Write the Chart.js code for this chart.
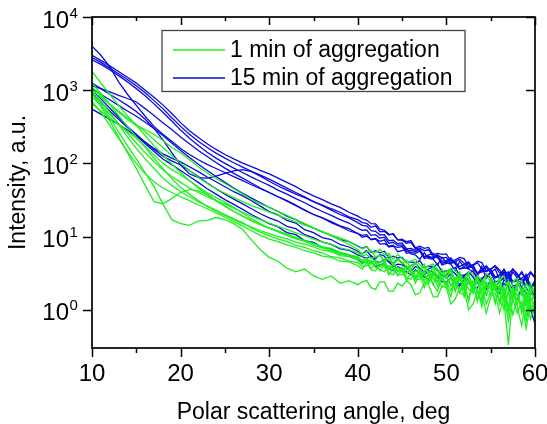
<!DOCTYPE html>
<html>
<head>
<meta charset="utf-8">
<script src="https://cdn.jsdelivr.net/npm/chart.js@4/dist/chart.umd.min.js"></script>
<style>
  html, body { margin: 0; padding: 0; background: #fff; }
  canvas { display: block; }
</style>
</head>
<body>
<canvas id="c" width="547" height="424"></canvas>
<script>
// Scattering angle, deg: 1 deg steps up to 39, then 0.5 deg steps (noisy tail)
const angles = [10,11,12,13,14,15,16,17,18,19,20,21,22,23,24,25,26,27,28,29,30,31,32,33,34,35,36,37,38,39,
    40,40.5,41,41.5,42,42.5,43,43.5,44,44.5,45,45.5,46,46.5,47,47.5,48,48.5,49,49.5,
    50,50.5,51,51.5,52,52.5,53,53.5,54,54.5,55,55.5,56,56.5,57,57.5,58,58.5,59,59.5,60];

// 1 min of aggregation
const green1 = [1800,1250,880,620,450,330,240,175,130,98, 75,58,46,38,31,26,22,19,16.5,14.5, 13,12,10.8,9.6,8.9,8,7.2,6.9,6.1,5.6,
    5.3,4.7,5.1,4.4,4.8,3.9,4.5,3.6,4.2,3.3, 3.8,3.1,3.6,2.6,3.4,2.5,3.1,2.2,3.0,2.7, 2.0,3.0,1.8,2.7,1.5,2.6,2.2,1.3,2.5,1.6, 2.4,1.2,2.2,1.7,0.9,2.1,1.2,1.9,0.8,1.8, 1.3];
const green2 = [1250,900,640,450,320,230,165,118,85,62, 47,38,31,26,22,19.5,17,15,13.5,12, 11,10,9.3,8.4,7.9,7.2,6.5,6.2,5.5,5.3,
    4.8,4.2,4.7,3.6,4.4,3.4,4.2,3.0,3.7,2.9, 3.5,2.5,3.3,2.3,3.1,2.0,3.0,2.2,1.8,2.8, 2.2,1.5,2.7,1.7,2.4,1.3,2.3,1.9,1.1,2.2, 1.6,2.4,1.2,2.0,0.9,1.9,1.1,0.6,1.6,1.0, 1.3];
const green3 = [1100,850,650,500,400,330,290,250,205,165, 140,112,90,74,62,53,45,38,32,28, 25,22,19.5,17,15,13.2,11.6,10.2,9.0,7.8,
    6.6,5.8,6.2,6.5,5.2,5.6,4.7,5.5,4.2,5.0, 4.2,4.8,3.5,4.4,3.3,4.2,3.0,3.9,2.8,3.6, 2.7,3.5,2.3,3.3,2.1,3.1,1.8,2.9,2.5,1.6, 2.6,1.8,2.8,1.4,2.4,1.3,2.2,2.5,1.1,2.0, 1.6];
const green4 = [1000,650,420,270,175,115,75,48,28,17, 15,14.2,16.3,16.6,18.2,17,15,12.5,9,6.6, 5.2,4.6,3.7,3.3,3.6,2.9,2.6,2.9,2.3,2.5,
    2.2,2.4,2.5,2.0,1.9,2.4,2.4,1.8,1.8,2.3, 2.1,2.5,2.2,1.6,1.7,2.3,2.2,1.5,1.5,2.1, 2.0,1.2,1.4,2.0,1.9,1.0,1.2,1.8,1.7,0.9, 1.5,1.7,0.9,1.5,0.7,1.4,0.9,1.3,0.55,1.2, 0.8];
const green5 = [950,700,500,340,230,160,115,85,63,50, 41,35,30,26,23,20,17.5,15.5,13,11.5, 10.2,9.2,8.6,7.6,7.1,6.4,6.0,5.3,5.1,4.6,
    4.4,3.9,4.0,4.5,3.8,3.5,3.3,4.0,3.7,3.0, 3.0,3.6,3.4,2.6,2.6,3.3,2.3,3.0,2.1,2.9, 2.2,2.8,1.8,2.7,2.2,1.4,2.5,1.7,1.3,2.3, 2.1,1.3,1.9,1.0,1.8,1.3,2.0,0.9,1.6,0.75, 1.2];
const green6 = [900,600,380,230,140,85,50,30,28,33, 40,44,42,37,31,26,22,19,16.5,14.5, 13,11.8,10.6,9.8,8.7,8.0,7.3,6.6,6.0,5.7,
    5.1,4.5,5.0,4.2,4.7,3.9,4.2,3.5,4.3,3.4, 3.4,4.0,3.2,2.8,3.5,3.0,2.5,3.4,2.4,3.1, 2.9,2.1,2.7,2.9,1.9,2.6,1.7,2.6,1.4,2.4, 1.9,2.3,1.3,2.1,1.1,1.9,1.6,1.0,2.0,1.3, 1.6];
const green7 = [800,620,470,350,260,190,140,105,82,66, 55,46,40,35,31,28,24.5,21.5,19,17, 15.3,13.8,12.5,11.2,10.3,9.2,8.4,7.9,7.0,6.6,
    6.0,5.4,5.7,5.0,5.3,5.5,4.5,5.0,4.1,4.8, 4.5,3.8,4.0,4.4,3.4,4.1,3.0,3.8,3.4,2.7, 3.1,3.5,2.5,3.2,2.2,3.1,2.1,2.8,1.8,2.8, 2.5,1.9,2.7,1.6,2.5,1.5,2.4,1.9,1.3,2.3, 1.7];
const green8 = [700,500,330,220,145,100,72,56,46,40, 35,31,27,24,21,18.5,16,14,12,10.4, 9.2,8.5,7.7,7.1,6.4,6.0,5.4,5.2,4.6,4.5,
    4.0,3.6,4.4,3.5,3.4,4.1,3.9,3.2,3.0,3.8, 3.5,2.8,2.6,3.4,3.2,2.4,2.3,3.1,2.8,2.0, 2.4,1.8,2.6,1.7,1.6,2.4,2.1,1.4,2.0,1.2, 1.7,2.0,1.3,1.1,1.8,0.85,1.5,1.1,0.7,1.4, 1.2];
const green9 = [650,520,420,340,275,220,170,130,100,82, 70,58,48,40,34,29.5,25,21,17.5,15, 13,11.6,10.4,9.3,8.6,7.6,7.0,6.4,5.8,5.4,
    5.0,4.7,4.4,4.7,4.0,4.5,4.6,3.7,3.5,3.8, 3.3,3.9,3.7,2.9,2.8,3.5,3.3,2.6,2.4,3.1, 2.8,2.2,2.1,2.8,2.6,1.9,1.7,2.5,2.3,1.6, 1.6,2.2,2.0,1.3,0.33,1.7,1.6,1.1,0.9,1.5, 1.0];
const green10 = [1000,800,640,520,420,340,270,210,165,128, 100,80,64,53,45,39,34,30,26.5,24, 21.5,19.5,17.5,15.8,14.3,13,11.7,10.5,9.6,8.6,
    7.3,6.8,7.2,6.3,6.0,6.7,5.6,5.9,4.9,5.7, 5.0,4.4,4.6,4.9,4.1,3.7,4.0,4.2,3.6,3.2, 3.3,3.7,3.5,2.7,2.6,3.3,3.1,2.4,2.2,3.1, 2.8,2.1,2.5,2.9,1.9,2.4,2.7,1.6,2.3,1.9, 1.9];

// 15 min of aggregation
const blue1 = [4000,3000,2100,1300,880,620,440,320,250,200, 160,132,112,97,85,75,66,58,51,45, 40,35,31,27,23,20,18,15.5,13.8,12,
    11,9.8,10.1,9.2,9.4,7.9,8.0,7.4,7.6,6.2, 6.4,6.8,5.8,5.6,4.9,6.0,5.0,4.9,4.1,5.2, 4.4,4.2,3.4,4.6,3.8,3.6,3.3,2.9,3.9,2.7, 3.2,3.6,2.6,3.3,2.3,3.3,2.7,2.0,3.0,2.0, 2.5];
const blue2 = [3000,2550,2150,1800,1500,1250,1000,800,630,480, 360,280,225,185,155,132,115,101,90,80, 72,63,55,48,41,36,32,28,25,21.5,
    19,17.5,16.8,15.0,14.9,12.6,12.2,10.8,10.7,9.0, 8.9,8.1,8.3,6.8,7.0,6.4,6.6,5.3,5.6,5.1, 5.2,4.3,4.5,4.9,4.3,3.7,4.0,4.4,3.6,3.3, 3.6,3.9,3.2,3.2,2.6,3.6,2.9,2.5,2.2,3.2, 2.7];
const blue3 = [2800,2400,2000,1680,1400,1150,920,720,560,420, 320,250,200,165,138,118,102,89,78,69, 61,53,46,40,35,30,26.5,23,20,18,
    15.5,14.2,14.0,12.0,11.8,10.5,10.6,8.8,8.9,8.0, 8.2,6.8,6.9,6.5,6.7,5.3,5.6,5.9,5.1,4.6, 4.7,5.1,4.3,3.9,4.2,4.5,3.8,3.2,3.5,4.0, 3.4,2.8,3.0,3.5,2.9,2.4,2.7,3.2,2.5,2.0, 2.2];
const blue4 = [2600,2250,1900,1580,1300,1050,840,650,500,380, 285,220,175,142,118,100,86,75,65,57, 50,43,38,33,29,25,22,19.5,17,15.3,
    13,12.2,12.3,10.4,10.6,9.5,9.8,8.1,8.3,7.6, 7.7,6.3,6.5,6.2,6.6,5.2,5.4,5.1,5.6,4.3, 4.5,4.8,4.2,3.6,3.9,4.3,3.6,3.1,3.4,3.8, 3.2,2.7,2.9,3.6,2.8,2.4,2.7,3.3,2.6,1.9, 2.3];
const blue5 = [1250,1050,880,740,620,510,400,300,210,140, 95,72,64,63,67,73,79,82,77,67, 57,49,43,38,34,30,27,24,21.5,18.6,
    17,15.5,15.1,13.4,14.0,11.6,11.8,10.5,11.0,9.0, 9.2,8.5,8.8,7.0,7.4,6.9,7.1,5.6,5.9,5.7, 5.8,4.6,4.8,5.2,5.0,3.9,4.1,4.6,4.4,3.4, 3.6,4.0,3.5,2.9,3.1,3.6,3.1,2.5,2.8,3.3, 2.8];
const blue6 = [1150,1050,950,850,770,690,560,450,360,290, 230,185,150,124,103,86,73,63,54,46, 40,35,30.5,26.5,23,20,18,16,14,12.8,
    11,10.4,10.6,9.0,9.3,8.6,9.0,7.2,7.4,7.1, 7.3,5.9,6.1,5.9,6.3,5.0,5.2,5.0,5.4,4.1, 4.3,4.4,4.6,3.6,3.7,3.8,4.1,3.1,3.3,3.4, 3.6,2.8,2.9,3.1,3.3,2.4,2.5,2.7,3.0,2.1, 2.2];
const blue7 = [1050,880,740,620,520,440,365,300,240,190, 150,120,97,80,66,55,46,39,33.5,29, 25,22,19,17,14.8,13,11.6,10.4,9.1,8.5,
    7.4,6.9,7.3,6.1,6.4,6.0,6.3,5.1,5.4,5.1, 5.2,4.4,4.5,4.4,4.7,3.8,3.9,3.9,4.2,3.3, 3.4,3.5,3.8,2.9,3.0,3.1,3.4,2.6,2.7,2.9, 3.2,2.4,2.5,2.7,3.0,2.1,2.2,2.4,2.7,1.9, 1.9];
const blue8 = [1000,760,570,430,320,250,195,155,125,108, 95,80,66,54,45,38,32.5,28,24,20.5, 18,16.3,13.8,12.8,10.6,9.7,8.4,7.8,6.8,6.5,
    5.6,5.3,5.0,5.5,4.6,4.4,4.9,4.5,3.9,4.2, 4.1,3.8,3.3,3.9,3.6,3.0,3.4,3.3,2.7,3.0, 2.7,3.1,2.6,2.2,2.8,2.5,2.1,2.9,2.3,1.9, 2.5,2.3,1.7,2.6,2.1,1.6,2.3,1.9,1.3,2.0, 1.5];
const blue9 = [900,690,520,400,310,240,185,145,115,96, 80,66,55,45,38,32,27.5,23.5,20,17.3, 15,13.5,11.3,10.6,8.8,8.3,7.1,6.8,5.8,5.6,
    4.8,4.3,4.6,4.5,3.9,4.1,4.3,3.6,3.4,3.9, 3.6,3.3,3.0,3.5,3.2,2.8,2.6,3.2,2.9,2.4, 2.4,2.7,2.3,2.1,2.6,2.4,1.9,2.0,2.6,2.2, 2.4,1.9,1.7,2.3,2.0,1.5,1.4,2.0,1.7,1.0, 0.65];
const blue10 = [550,470,400,340,285,235,195,160,135,118, 105,90,77,65,56,48,41,36,31,26, 22,19.8,16.6,15.3,12.4,11.3,9.7,9.1,7.8,7.2,
    6.3,5.8,6.4,5.4,5.0,5.7,5.4,4.5,4.3,5.0, 4.3,3.7,4.0,4.3,3.7,3.3,3.6,3.9,3.4,2.9, 3.0,3.5,3.1,2.6,2.9,3.3,2.8,2.3,2.6,3.1, 2.7,2.1,2.4,2.8,2.3,1.9,2.2,2.5,2.0,1.6, 1.8];

const greenSeries = [green1, green2, green3, green4, green5, green6, green7, green8, green9, green10];
const blueSeries = [blue1, blue2, blue3, blue4, blue5, blue6, blue7, blue8, blue9, blue10];

const xTicks = [10, 15, 20, 25, 30, 35, 40, 45, 50, 55, 60];
const yExponents = [0, 1, 2, 3, 4];
const legendLabels = ['1 min of aggregation', '15 min of aggregation'];

const GREEN = '#1ef01e';
const BLUE = '#0a0ae0';
const FONT = '"Liberation Sans", Arial, Helvetica, sans-serif';

function toPoints(values) {
    return values.map((v, i) => ({ x: angles[i], y: v }));
}

const datasets = [];
greenSeries.forEach((s) => datasets.push({
    data: toPoints(s), borderColor: GREEN, borderWidth: 1.3, pointRadius: 0, tension: 0,
}));
blueSeries.forEach((s) => datasets.push({
    data: toPoints(s), borderColor: BLUE, borderWidth: 1.3, pointRadius: 0, tension: 0,
}));

// box, ticks (out on bottom/left, in on top/right), decade labels and legend
const framePlugin = {
    id: 'frame',
    afterDraw(chart) {
        const { ctx, chartArea: a, scales: { x, y } } = chart;
        ctx.save();
        ctx.strokeStyle = '#000';
        ctx.lineWidth = 1.7;
        ctx.strokeRect(a.left, a.top, a.right - a.left, a.bottom - a.top);

        ctx.lineWidth = 1.5;
        ctx.beginPath();
        xTicks.forEach((v) => {
            const px = Math.round(x.getPixelForValue(v)) + 0.5;
            const len = v % 10 === 0 ? 9 : 5;
            ctx.moveTo(px, a.bottom);
            ctx.lineTo(px, a.bottom + len);
            ctx.moveTo(px, a.top);
            ctx.lineTo(px, a.top + len - 1);
        });
        yExponents.forEach((e) => {
            const py = Math.round(y.getPixelForValue(Math.pow(10, e))) + 0.5;
            ctx.moveTo(a.left - 9, py);
            ctx.lineTo(a.left, py);
            ctx.moveTo(a.right, py);
            ctx.lineTo(a.right - 9, py);
        });
        ctx.stroke();

        // y labels 10^n
        ctx.fillStyle = '#000';
        yExponents.forEach((e) => {
            const py = y.getPixelForValue(Math.pow(10, e));
            ctx.font = '24px ' + FONT;
            ctx.textAlign = 'right';
            ctx.textBaseline = 'alphabetic';
            ctx.fillText('10', 69, py + 10.5);
            ctx.font = '15px ' + FONT;
            ctx.textAlign = 'left';
            ctx.fillText(String(e), 69.5, py + 0.5);
        });

        // legend
        const bx = 162, by = 30.5, bw = 303, bh = 61;
        ctx.fillStyle = '#fff';
        ctx.fillRect(bx, by, bw, bh);
        ctx.strokeStyle = '#444';
        ctx.lineWidth = 1.3;
        ctx.strokeRect(bx, by, bw, bh);
        [GREEN, BLUE].forEach((col, i) => {
            const ly = 50 + i * 28;
            ctx.strokeStyle = col;
            ctx.lineWidth = 1.5;
            ctx.beginPath();
            ctx.moveTo(173, ly);
            ctx.lineTo(225, ly);
            ctx.stroke();
            ctx.fillStyle = '#000';
            ctx.font = '23px ' + FONT;
            ctx.textAlign = 'left';
            ctx.textBaseline = 'middle';
            ctx.fillText(legendLabels[i], 230, ly + 0.5);
        });
        ctx.restore();
    },
};

new Chart(document.getElementById('c'), {
    type: 'line',
    data: { datasets },
    options: {
        responsive: false,
        animation: false,
        devicePixelRatio: 1,
        layout: { padding: { top: 17, right: 0, bottom: 0, left: 0 } },
        plugins: { legend: { display: false }, tooltip: { enabled: false } },
        scales: {
            x: {
                type: 'linear',
                min: 10,
                max: 60,
                ticks: { stepSize: 10, color: '#000', padding: 12, font: { size: 24, family: FONT } },
                grid: { display: false, drawTicks: false },
                border: { display: false },
                title: {
                    display: true, text: 'Polar scattering angle, deg', color: '#000',
                    font: { size: 23, family: FONT, lineHeight: 1 }, padding: { top: 0, bottom: 0 },
                },
                afterFit(s) { s.height = 76; s.paddingRight = 12; },
            },
            y: {
                type: 'logarithmic',
                min: 0.3,
                max: 10000,
                ticks: { display: false },
                grid: { display: false, drawTicks: false },
                border: { display: false },
                title: {
                    display: true, text: 'Intensity, a.u.', color: '#000',
                    font: { size: 23, family: FONT, lineHeight: 1 }, padding: { top: 7, bottom: 0 },
                },
                afterFit(s) { s.width = 92; },
            },
        },
    },
    plugins: [framePlugin],
});
</script>
</body>
</html>
